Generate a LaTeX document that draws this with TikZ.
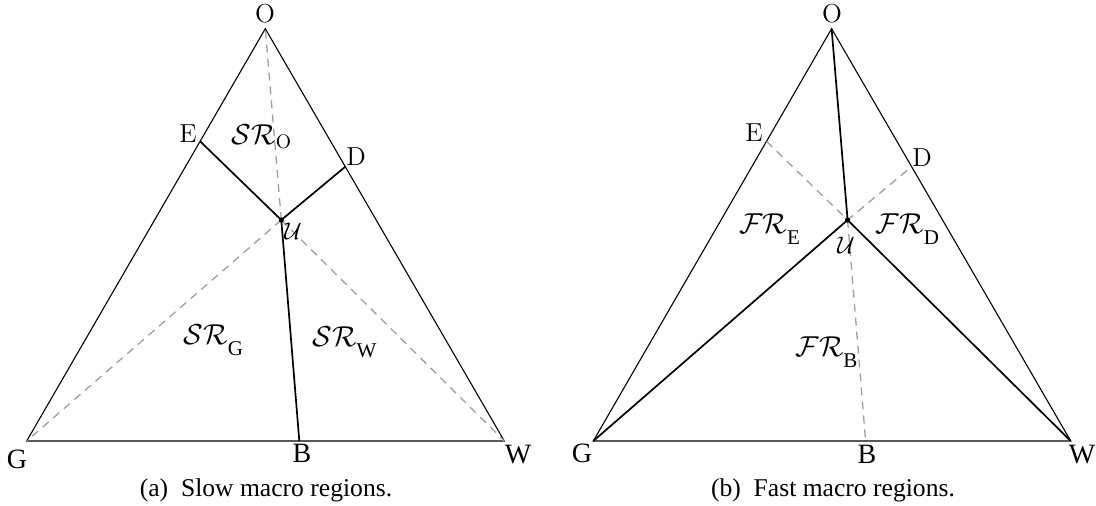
\documentclass[tikz,border=0pt]{standalone}
\usepackage{fontspec}
\usepackage{amsmath}
\newfontfamily\timesfont{Liberation Serif}
\usepackage{tikz}
\newcommand{\vsub}[1]{\text{\raisebox{-3.5pt}{\timesfont\fontsize{10.5}{12}\selectfont #1}}}

\begin{document}
\begin{tikzpicture}[x=0.5pt,y=-0.5pt,
    edge/.style={draw=black,line width=0.55pt},
    bound/.style={draw=black,line width=0.85pt},
    guide/.style={draw=gray!75,dash pattern=on 4pt off 3pt,line width=0.65pt},
    vlab/.style={font=\fontsize{13}{15}\selectfont,inner sep=0pt},
    tlab/.style={font=\fontsize{14}{16}\selectfont\timesfont,inner sep=0pt},
    reg/.style={font=\fontsize{14}{16}\selectfont,inner sep=0pt},
    captext/.style={font=\fontsize{12.8}{15}\selectfont\timesfont,inner sep=0pt},
  ]
    \useasboundingbox (0,0) rectangle (1096,506);

    % Slow macro regions
    \coordinate (lO) at (265.3,28.7);
    \coordinate (lG) at (26.7,441);
    \coordinate (lW) at (504.3,441);
    \coordinate (lB) at (299.3,441);
    \coordinate (lE) at (200.3,141.5);
    \coordinate (lD) at (345.2,166.8);
    \coordinate (lU) at (281.3,220);

    \draw[edge] (lO) -- (lG) -- (lW) -- cycle;
    \draw[guide] (lU) -- (lO);
    \draw[guide] (lU) -- (lG);
    \draw[guide] (lU) -- (lW);
    \draw[bound] (lE) -- (lU) -- (lD);
    \draw[bound] (lU) -- (lB);
    \fill (lU) circle (1.3pt);

    \node[vlab] (lOl) at (265,14)  {O};
    \node[vlab] (lEl) at (188,134) {E};
    \node[vlab] (lDl) at (356,157) {D};
    \node[vlab] (lUl) at (293,231) {$\mathcal{U}$};
    \node[tlab] (lGl) at (17,459)  {G};
    \node[tlab] (lBl) at (302,453) {B};
    \node[tlab] (lWl) at (518,455) {W};
    \node[reg] (srO) at (262,137) {$\mathcal{SR}_{\mathrm{O}}$};
    \node[reg] (srG) at (214,340) {$\mathcal{SR}_{\vsub{G}}$};
    \node[reg] (srW) at (345,342) {$\mathcal{SR}_{\vsub{W}}$};
    \node[captext] (capa) at (266,490) {(a)\enspace Slow macro regions.};

    % Fast macro regions
    \coordinate (rO) at (831.6,28.7);
    \coordinate (rG) at (593.3,441);
    \coordinate (rW) at (1070.7,441);
    \coordinate (rB) at (865.6,441);
    \coordinate (rE) at (766.6,141.5);
    \coordinate (rD) at (911.5,166.8);
    \coordinate (rU) at (847.6,220);

    \draw[edge] (rO) -- (rG) -- (rW) -- cycle;
    \draw[guide] (rE) -- (rU) -- (rD);
    \draw[guide] (rU) -- (rB);
    \draw[bound] (rO) -- (rU);
    \draw[bound] (rG) -- (rU) -- (rW);
    \fill (rU) circle (1.3pt);

    \node[vlab] (rOl) at (832,14)  {O};
    \node[vlab] (rEl) at (754,133) {E};
    \node[vlab] (rDl) at (922,158) {D};
    \node[vlab] (rUl) at (846,245) {$\mathcal{U}$};
    \node[tlab] (rGl) at (582,453) {G};
    \node[tlab] (rBl) at (867,454) {B};
    \node[tlab] (rWl) at (1082,455) {W};
    \node[reg] (frE) at (770,229) {$\mathcal{FR}_{\vsub{E}}$};
    \node[reg] (frD) at (908,229) {$\mathcal{FR}_{\vsub{D}}$};
    \node[reg] (frB) at (827,352) {$\mathcal{FR}_{\vsub{B}}$};
    \node[captext] (capb) at (833,490) {(b)\enspace Fast macro regions.};

  \end{tikzpicture}
\end{document}
